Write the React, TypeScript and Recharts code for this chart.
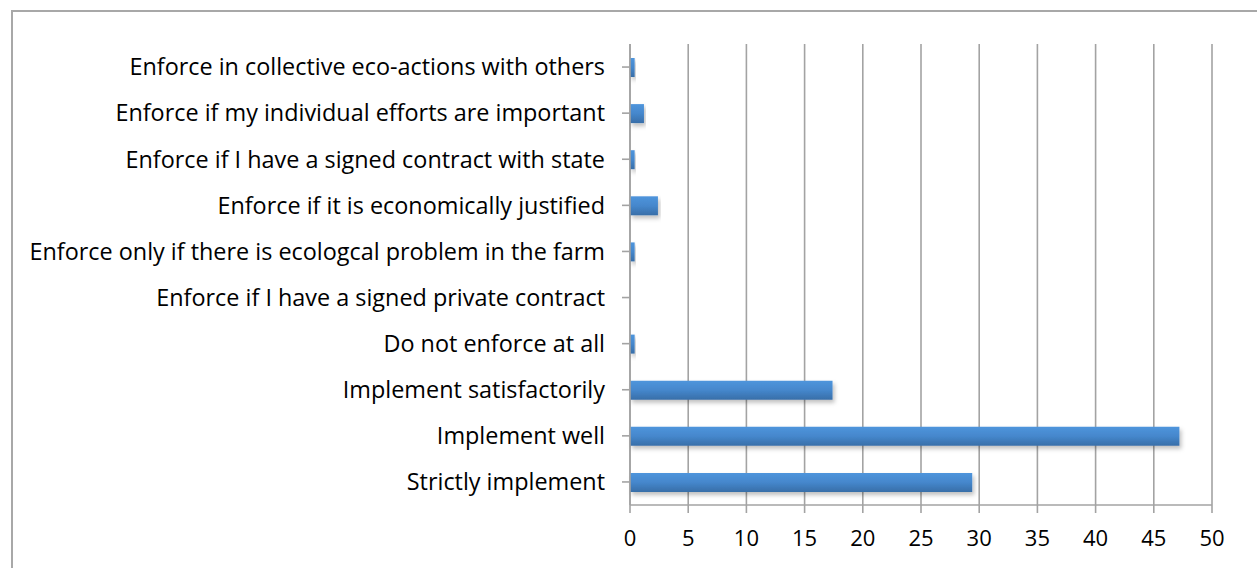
import { BarChart, Bar, XAxis, YAxis, CartesianGrid } from "recharts";

const categories = [
  "Enforce in collective eco-actions with others",
  "Enforce if my individual efforts are important",
  "Enforce if I have a signed contract with state",
  "Enforce if it is economically justified",
  "Enforce only if there is ecologcal problem in the farm",
  "Enforce if I have a signed private contract",
  "Do not enforce at all",
  "Implement satisfactorily",
  "Implement well",
  "Strictly implement",
];

const shares = [0.4, 1.2, 0.4, 2.4, 0.4, 0, 0.4, 17.4, 47.2, 29.4];

const xTicks = [0, 5, 10, 15, 20, 25, 30, 35, 40, 45, 50];

const data = categories.map((name, i) => ({ name, value: shares[i] }));

const font = "'Open Sans', sans-serif";

export default function App() {
  return (
    <div style={{ position: "absolute", left: 0, top: 0, width: 1257, height: 568, overflow: "hidden", background: "#fff" }}>
      <div
        style={{
          position: "absolute",
          left: 11,
          top: 10,
          width: 1300,
          height: 600,
          border: "2px solid #a8a8a8",
        }}
      />
      <div style={{ position: "absolute", left: 0, top: 0 }}>
        <BarChart
          width={1257}
          height={568}
          data={data}
          layout="vertical"
          margin={{ top: 44, right: 45, bottom: 23, left: 0 }}
          barSize={19}
        >
          <defs>
            <linearGradient id="barFill" x1="0" y1="0" x2="0" y2="1">
              <stop offset="0%" stopColor="#4f95dc" />
              <stop offset="50%" stopColor="#4587cc" />
              <stop offset="100%" stopColor="#386ea8" />
            </linearGradient>
            <filter id="barShadow" x="-5%" y="-30%" width="115%" height="180%">
              <feDropShadow dx="2" dy="3" stdDeviation="2" floodColor="#000" floodOpacity="0.25" />
            </filter>
          </defs>
          <CartesianGrid horizontal={false} stroke="#a3a3a3" strokeWidth={1.6} />
          <XAxis
            type="number"
            domain={[0, 50]}
            ticks={xTicks}
            interval={0}
            height={40}
            axisLine={{ stroke: "#a3a3a3", strokeWidth: 1.6 }}
            tickLine={{ stroke: "#a3a3a3", strokeWidth: 1.6 }}
            tickSize={8}
            tickMargin={17}
            tick={{ fill: "#000", fontSize: 22, fontFamily: font }}
          />
          <YAxis
            type="category"
            dataKey="name"
            width={630}
            interval={0}
            axisLine={{ stroke: "#a3a3a3", strokeWidth: 1.6 }}
            tickLine={{ stroke: "#a3a3a3", strokeWidth: 1.6 }}
            tickSize={8}
            tickMargin={17}
            tick={{ fill: "#000", fontSize: 23.4, fontFamily: font }}
          />
          <Bar dataKey="value" fill="url(#barFill)" filter="url(#barShadow)" isAnimationActive={false} />
        </BarChart>
      </div>
    </div>
  );
}
